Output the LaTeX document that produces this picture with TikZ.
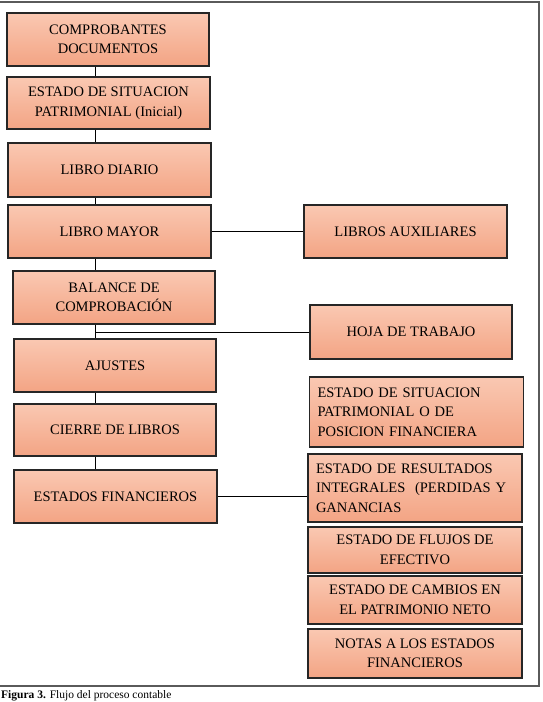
\documentclass[tikz,border=0pt]{standalone}
\usepackage{fontspec}
\setmainfont{Liberation Serif}
\definecolor{salTop}{RGB}{250,200,178}
\definecolor{salBot}{RGB}{243,164,132}
\definecolor{frameGray}{RGB}{90,90,90}
\begin{document}
\begin{tikzpicture}[x=1pt,y=-1pt,
  box/.style={draw=black!85, line width=1.1pt, top color=salTop, bottom color=salBot,
    inner sep=0pt, align=center, font=\fontsize{14.5}{19.5}\selectfont},
  lbox/.style={box, align=left, inner xsep=8pt, text width=198pt},
  link/.style={draw=black, line width=1pt}]
\useasboundingbox[fill=white] (0,0) rectangle (542,702);
% frame
\draw[frameGray, line width=1.5pt] (0,2) -- (539,2) -- (539,686) -- (0,686);
% spine coordinate
\coordinate (sp) at (95,0);
% left column
\node[box, minimum width=202pt, minimum height=53pt] (b1) at (108,39.5) {COMPROBANTES\\DOCUMENTOS};
\node[box, minimum width=203pt, minimum height=52pt] (b2) at (108.5,103) {ESTADO DE SITUACION\\PATRIMONIAL (Inicial)};
\node[box, minimum width=203pt, minimum height=54pt] (b3) at (109.5,170) {LIBRO DIARIO};
\node[box, minimum width=203pt, minimum height=53pt] (b4) at (109.5,231.5) {LIBRO MAYOR};
\node[box, minimum width=202pt, minimum height=53pt] (b6) at (114,297.5) {BALANCE DE\\COMPROBACIÓN};
\node[box, minimum width=202pt, minimum height=53pt] (b8) at (115,365.5) {AJUSTES};
\node[box, minimum width=202pt, minimum height=52pt] (b9) at (115,430) {CIERRE DE LIBROS};
\node[box, minimum width=203pt, minimum height=53pt] (b10) at (115.5,496.5) {ESTADOS FINANCIEROS};
% right column
\node[box, minimum width=203pt, minimum height=53pt] (b5) at (405.5,231.5) {LIBROS AUXILIARES};
\node[box, minimum width=202pt, minimum height=54pt] (b7) at (411,332) {HOJA DE TRABAJO};
\node[lbox, minimum width=214pt, minimum height=70pt] (b11) at (416.5,412) {ESTADO DE SITUACION\\PATRIMONIAL O DE\\POSICION FINANCIERA};
\node[lbox, minimum width=214pt, minimum height=68pt] (b12) at (415,488) {ESTADO DE RESULTADOS\\INTEGRALES\ \ (PERDIDAS Y\\GANANCIAS};
\node[box, minimum width=214pt, minimum height=46pt] (b13) at (415,550) {ESTADO DE FLUJOS DE\\EFECTIVO};
\node[box, minimum width=214pt, minimum height=48pt] (b14) at (415,600) {ESTADO DE CAMBIOS EN\\EL PATRIMONIO NETO};
\node[box, minimum width=214pt, minimum height=49pt] (b15) at (415,653.5) {NOTAS A LOS ESTADOS\\FINANCIEROS};
% connectors
\draw[link] (b1.south -| sp) -- (b2.north -| sp);
\draw[link] (b2.south -| sp) -- (b3.north -| sp);
\draw[link] (b3.south -| sp) -- (b4.north -| sp);
\draw[link] (b4.south -| sp) -- (b6.north -| sp);
\draw[link] (b6.south -| sp) -- (b8.north -| sp);
\draw[link] (b8.south -| sp) -- (b9.north -| sp);
\draw[link] (b9.south -| sp) -- (b10.north -| sp);
\draw[link] (b4.east) -- (b5.west);
\draw[link] (b7.west) -- (b7.west -| sp);
\draw[link] (b10.east) -- (b10.east -| b12.west);
% caption
\node[anchor=base west, inner sep=0pt, font=\fontsize{11.5}{13}\selectfont] (cap) at (1,698.5) {\textbf{Figura 3.} Flujo del proceso contable};
\end{tikzpicture}
\end{document}
